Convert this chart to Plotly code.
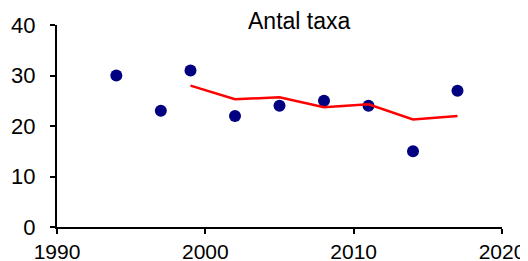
import plotly.graph_objects as go

years = [1994, 1997, 1999, 2002, 2005, 2008, 2011, 2014, 2017]
taxa = [30, 23, 31, 22, 24, 25, 24, 15, 27]
trend_years = [1999, 2002, 2005, 2008, 2011, 2014, 2017]
trend_vals = [28, 25.3, 25.7, 23.7, 24.3, 21.3, 22]
x_ticks = [1990, 2000, 2010, 2020]
y_ticks = [0, 10, 20, 30, 40]
title = "Antal taxa"

font = "Arial, Liberation Sans, sans-serif"

fig = go.Figure()
fig.add_trace(go.Scatter(x=years, y=taxa, mode="markers",
                         marker=dict(color="#000080", size=12, line=dict(width=0)),
                         showlegend=False, cliponaxis=False))
fig.add_trace(go.Scatter(x=trend_years, y=trend_vals, mode="lines",
                         line=dict(color="#FF0000", width=2.5),
                         showlegend=False))

# the page body adds an 8px offset; figure size and margins compensate for it
W, H = 520, 253
L, R, T, B = 49, 26, 17, 34
fig.update_layout(
    width=W, height=H,
    margin=dict(l=L, r=R, t=T, b=B, autoexpand=False),
    paper_bgcolor="white", plot_bgcolor="white",
    font=dict(family=font, size=22, color="black"),
    annotations=[dict(text=title,
                      x=(290.5 - L) / (W - L - R), y=(H - B - 13) / (H - T - B),
                      xref="paper", yref="paper", xanchor="center", yanchor="middle",
                      showarrow=False, font=dict(size=23, family=font, color="black"))],
)

fig.update_xaxes(range=[1990, 2020], tickvals=x_ticks, showline=True, linecolor="black",
                 linewidth=2, ticks="outside", ticklen=5, tickwidth=2, tickcolor="black",
                 showgrid=False, zeroline=False, tickfont=dict(size=21), automargin=False,
                 ticklabelstandoff=0)
fig.update_yaxes(range=[0, 40], tickvals=y_ticks, showline=True, linecolor="black",
                 linewidth=2, ticks="outside", ticklen=5, tickwidth=2, tickcolor="black",
                 showgrid=False, zeroline=False, tickfont=dict(size=22), ticklabelstandoff=10,
                 automargin=False)

fig.write_html("out.html")
